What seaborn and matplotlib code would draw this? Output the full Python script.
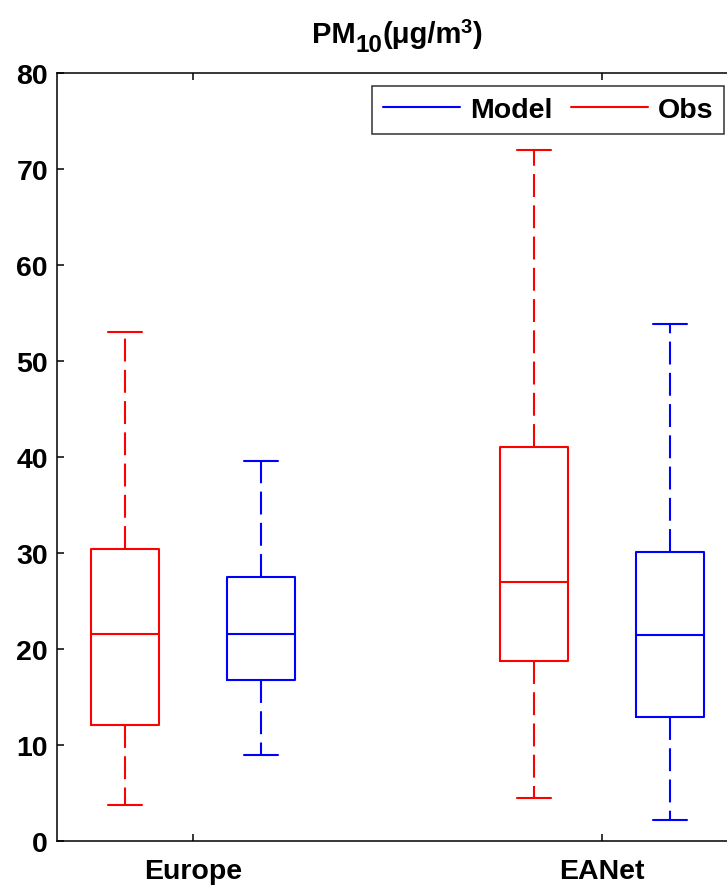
import numpy as np
import pandas as pd
import matplotlib
matplotlib.use("Agg")
import matplotlib.pyplot as plt
from matplotlib.lines import Line2D
import seaborn as sns

# Categories and series
regions = ["Europe", "EANet"]
sources = ["Obs", "Model"]
# Five-number summaries: [lower whisker, Q1, median, Q3, upper whisker]
europe_obs = [3.8, 12.1, 21.6, 30.4, 53.0]
europe_model = [9.0, 16.8, 21.6, 27.5, 39.6]
eanet_obs = [4.5, 18.7, 27.0, 41.0, 72.0]
eanet_model = [2.2, 12.9, 21.5, 30.1, 53.9]
y_ticks = [0, 10, 20, 30, 40, 50, 60, 70, 80]

rows = []
for reg, src, vals in [("Europe", "Obs", europe_obs), ("Europe", "Model", europe_model),
                       ("EANet", "Obs", eanet_obs), ("EANet", "Model", eanet_model)]:
    for v in vals:
        rows.append({"region": reg, "source": src, "value": v})
df = pd.DataFrame(rows)

sns.set_style("ticks")
plt.rcParams["font.family"] = ["Liberation Sans", "DejaVu Sans"]
plt.rcParams["font.weight"] = "bold"
for k in ["text.color", "axes.labelcolor", "xtick.color", "ytick.color", "axes.edgecolor"]:
    plt.rcParams[k] = "black"

colors = {"Obs": "#ff0000", "Model": "#0000ff"}
W, H = 727, 887

fig = plt.figure(figsize=(7.27, 8.87), dpi=100)
ax = fig.add_axes([57 / W, 1 - 842 / H, (738 - 57) / W, (842 - 74) / H])

sns.boxplot(data=df, x="region", y="value", hue="source", order=regions,
            hue_order=sources, palette=colors, fill=False, width=0.666, gap=0.5,
            whis=(0, 100), linewidth=1.5, legend=False, ax=ax,
            whiskerprops=dict(linestyle=(0, (11, 4))))

ax.set_ylim(0, 80)
ax.set_xlim(-0.333, 1.333)
ax.set_yticks(y_ticks)
ax.set_xlabel("")
ax.set_ylabel("")
for sp in ax.spines.values():
    sp.set_visible(True)
    sp.set_linewidth(1.1)
    sp.set_color("black")
ax.tick_params(axis="both", direction="in", length=5, width=1.1, colors="black",
               labelcolor="black", labelsize=20.5, top=True, right=True)
ax.tick_params(axis="x", pad=12.5)
ax.tick_params(axis="y", pad=6.5)
for lab in ax.get_xticklabels() + ax.get_yticklabels():
    lab.set_fontweight("bold")

# Title built from pieces so the subscript / superscript sit like the original
fig.canvas.draw()
renderer = fig.canvas.get_renderer()
parts = [("PM", 21, 0), ("10", 17.5, -9), ("(μg/m", 21, 0), ("3", 14.5, 10), (")", 21, 0)]
texts = []
widths = []
for s, fs, dy in parts:
    t = fig.text(0, 0, s, fontsize=fs, fontweight="bold", color="black", va="baseline", ha="left")
    bb = t.get_window_extent(renderer)
    texts.append((t, dy))
    widths.append(bb.width)
total = sum(widths) - 2
x = 397 - total / 2
base = 43
for (t, dy), w in zip(texts, widths):
    t.set_position((x / W, 1 - (base - dy) / H))
    x += w - 0.5

handles = [Line2D([], [], color=colors["Model"], lw=1.5),
           Line2D([], [], color=colors["Obs"], lw=1.5)]
leg = ax.legend(handles, ["Model", "Obs"], ncol=2, loc="upper right",
                bbox_to_anchor=(724 / W, 1 - 87 / H), bbox_transform=fig.transFigure,
                borderaxespad=0, handlelength=2.7, handletextpad=0.35,
                columnspacing=0.65, borderpad=0.38, fancybox=False, frameon=True,
                prop={"size": 20.5, "weight": "bold"})
leg.get_frame().set_edgecolor("black")
leg.get_frame().set_linewidth(1.1)
for t in leg.get_texts():
    t.set_color("black")

fig.savefig("out.png", dpi=100)
